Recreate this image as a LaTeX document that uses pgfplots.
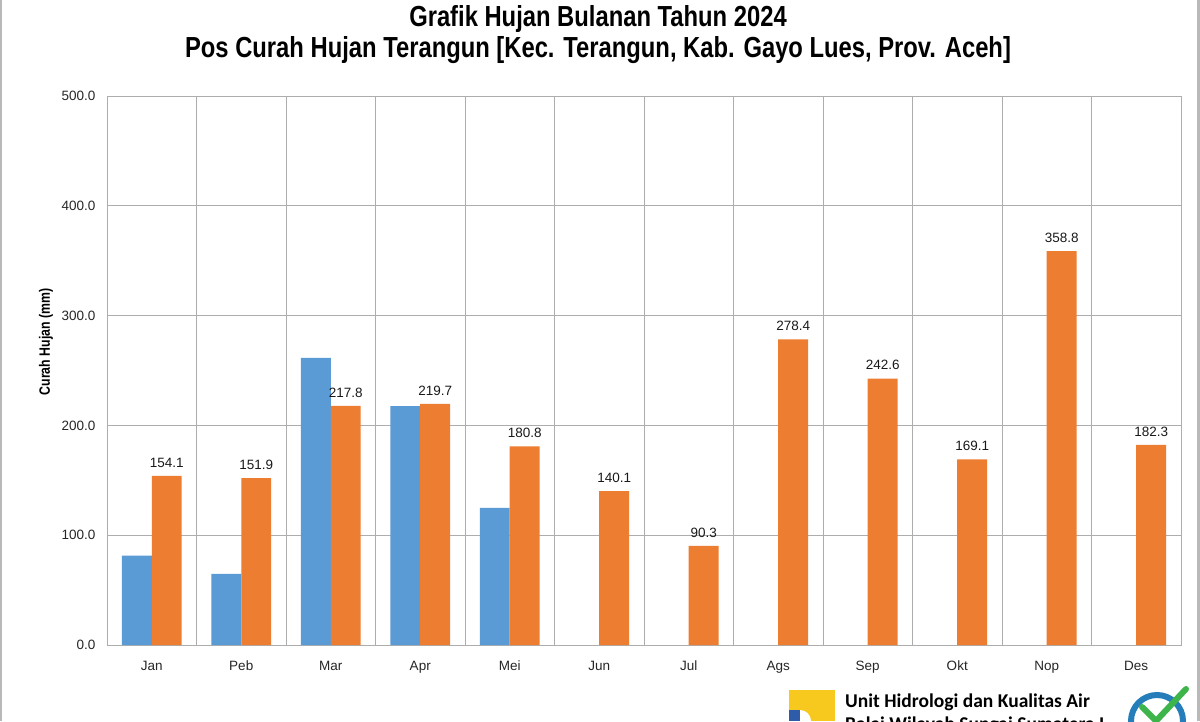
\documentclass[border=0pt]{standalone}
\usepackage{pgfplots}
\pgfplotsset{compat=1.18}
\usepackage{fontspec}
\setmainfont{Liberation Sans}
\newfontfamily\narrowfont[FakeStretch=0.82]{Liberation Sans}
\newfontfamily\logofont{Carlito}
\definecolor{cblue}{HTML}{5B9BD5}
\definecolor{corange}{HTML}{ED7D31}
\definecolor{gridc}{HTML}{ADADAD}
\definecolor{publ}{HTML}{2E5CA8}
\definecolor{puyel}{HTML}{F7C81E}
\definecolor{isog}{HTML}{3DB54A}
\begin{document}
\begin{tikzpicture}[x=1pt,y=1pt]
\useasboundingbox (0,0) rectangle (1200,721);
\clip (0,0) rectangle (1200,721);
\fill[white] (0,0) rectangle (1200,721);
\draw[gray!55, line width=2.5pt] (1.2,0) -- (1.2,721);
\draw[gray!55, line width=2.5pt] (1198.5,0) -- (1198.5,721);
\begin{axis}[
  at={(107pt,76pt)}, anchor=south west, scale only axis,
  width=1074pt, height=549pt,
  xmin=-0.5, xmax=11.5, ymin=0, ymax=500,
  xtick={0,...,11},
  xticklabels={Jan,Peb,Mar,Apr,Mei,Jun,Jul,Ags,Sep,Okt,Nop,Des},
  minor xtick={-0.5,0.5,...,11.5},
  xminorgrids=true, ymajorgrids=true, xmajorgrids=false,
  ytick={0,100,...,500},
  major tick length=0pt, minor tick length=0pt,
  /pgf/number format/assume math mode=true,
  /pgf/number format/fixed,
  /pgf/number format/fixed zerofill,
  /pgf/number format/precision=1,
  tick label style={font=\fontsize{13.5}{15}\selectfont, color=black!85},
  xticklabel style={anchor=base, yshift=-25pt},
  yticklabel style={xshift=-8pt},
  axis line style={gridc, line width=0.8pt},
  grid style={gridc, line width=0.8pt},
  minor grid style={gridc, line width=0.8pt},
  ybar=0pt, bar width=0.335,
  clip=false,
]
\addplot[fill=cblue, draw=none, bar shift=-0.1675] coordinates {
  (0,81.3) (1,64.7) (2,261.5) (3,217.5) (4,124.8)};
\addplot[fill=corange, draw=none, bar shift=0.1675,
  nodes near coords,
  nodes near coords style={font=\fontsize{13.5}{15}\selectfont, color=black!90, yshift=5pt}] coordinates {
  (0,154.1) (1,151.9) (2,217.8) (3,219.7) (4,180.8) (5,140.1)
  (6,90.3) (7,278.4) (8,242.6) (9,169.1) (10,358.8) (11,182.3)};
\end{axis}
% titles
\node[anchor=base, font=\narrowfont\bfseries\fontsize{29}{32}\selectfont] at (598,694) {Grafik Hujan Bulanan Tahun 2024};
\node[anchor=base, font=\narrowfont\bfseries\fontsize{29}{32}\selectfont] at (598,663) {Pos Curah Hujan Terangun [Kec. Terangun, Kab. Gayo Lues, Prov. Aceh]};
\node[rotate=90, font=\narrowfont\bfseries\fontsize{15}{17}\selectfont] at (46,379) {Curah Hujan (mm)};
% logo (decorative)
\fill[puyel] (789,0) rectangle (835,31);
\fill[publ] (789,0) rectangle (800,11);
\fill[white] (800,0) -- (800,11) arc (90:0:11) -- cycle;
\node[anchor=base west, font=\logofont\bfseries\fontsize{19.5}{22}\selectfont, inner sep=0pt] at (845,14) {Unit Hidrologi dan Kualitas Air};
\node[anchor=base west, font=\logofont\bfseries\fontsize{19.5}{22}\selectfont, inner sep=0pt] at (845,-9) {Balai Wilayah Sungai Sumatera I};
\fill[white] (1157,0) circle (29);
\draw[publ!80!cyan, line width=6pt] (1157,0) circle (26);
\draw[isog, line width=6pt, line cap=round, line join=round] (1142,14) -- (1156,0) -- (1186,32);
\end{tikzpicture}
\end{document}
